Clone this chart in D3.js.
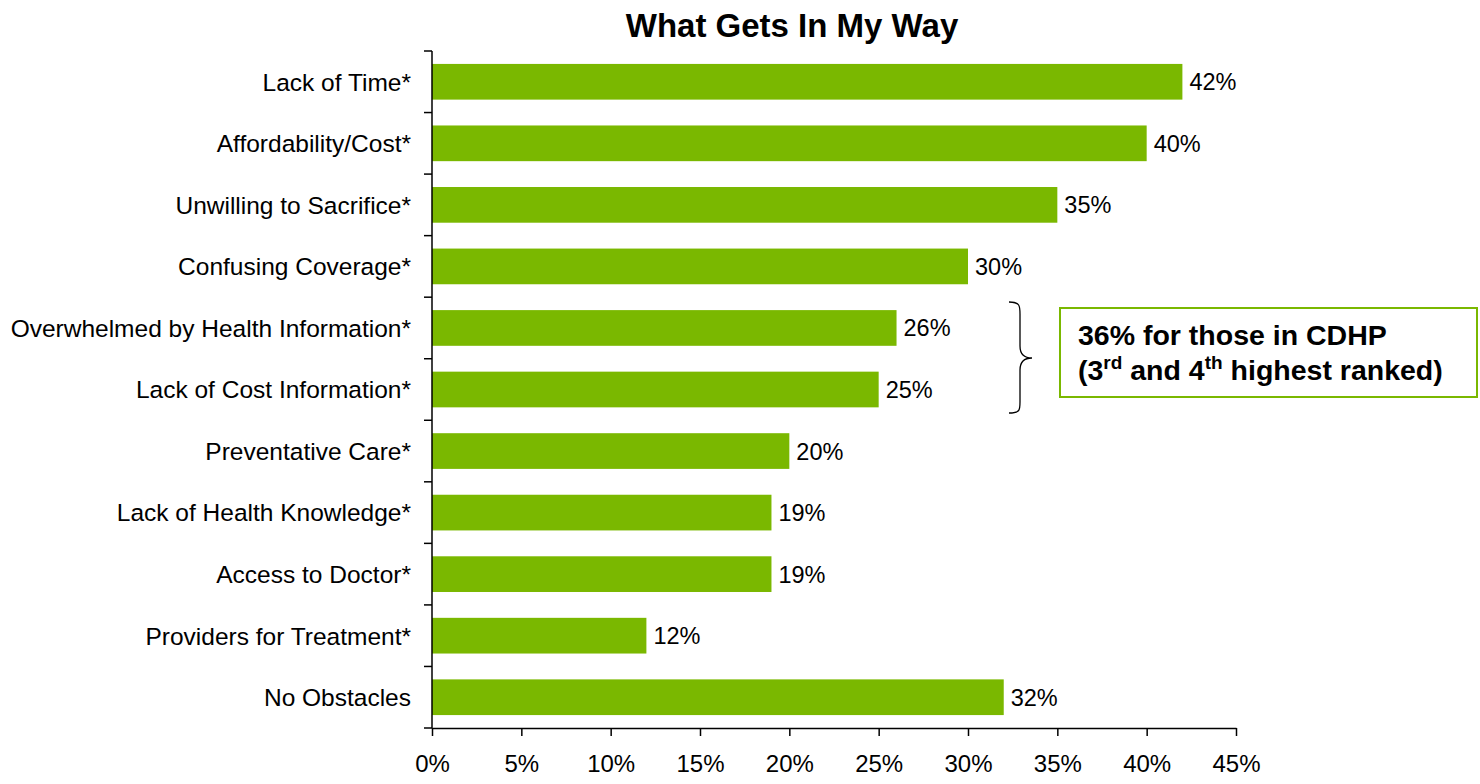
<!DOCTYPE html>
<html>
<head>
<meta charset="UTF-8">
<style>
  body { margin: 0; background: white; }
  svg text { font-family: "Liberation Sans", Arial, sans-serif; fill: #000; }
  .axis path, .axis line { stroke: #000; stroke-width: 1.5; }
</style>
</head>
<body>
<svg id="chart" width="1480" height="784"></svg>
<script src="https://d3js.org/d3.v7.min.js"></script>
<script>
// data
const categories = ["Lack of Time*", "Affordability/Cost*", "Unwilling to Sacrifice*", "Confusing Coverage*",
  "Overwhelmed by Health Information*", "Lack of Cost Information*", "Preventative Care*",
  "Lack of Health Knowledge*", "Access to Doctor*", "Providers for Treatment*", "No Obstacles"];
const values = [42, 40, 35, 30, 26, 25, 20, 19, 19, 12, 32];
const xTicks = [0, 5, 10, 15, 20, 25, 30, 35, 40, 45];

const svg = d3.select("#chart");
const mLeft = 432, mRight = 1236, mTop = 51, mBottom = 728;

const x = d3.scaleLinear().domain([0, 45]).range([mLeft, mRight]);
const y = d3.scaleBand().domain(categories).range([mTop, mBottom]).paddingInner(0.42).paddingOuter(0.21);

svg.append("text")
  .attr("x", 792).attr("y", 37)
  .attr("text-anchor", "middle")
  .style("font-size", "33px").style("font-weight", "bold")
  .text("What Gets In My Way");

// bars
svg.append("g").selectAll("rect")
  .data(values)
  .join("rect")
  .attr("x", x(0))
  .attr("y", (d, i) => y(categories[i]))
  .attr("width", d => x(d) - x(0))
  .attr("height", y.bandwidth())
  .attr("fill", "#7ab800");

svg.append("g").selectAll("text")
  .data(values)
  .join("text")
  .attr("x", d => x(d) + 7)
  .attr("y", (d, i) => y(categories[i]) + y.bandwidth() / 2)
  .attr("dy", "0.36em")
  .style("font-size", "23.5px")
  .text(d => d + "%");

// x axis
const xAxis = svg.append("g").attr("class", "axis")
  .attr("transform", `translate(0,${mBottom})`)
  .call(d3.axisBottom(x).tickValues(xTicks).tickFormat(d => d + "%").tickSize(8).tickSizeOuter(0).tickPadding(19));
xAxis.selectAll("text").style("font-size", "24px");

// y axis: ticks at band boundaries
const yAxis = svg.append("g").attr("class", "axis");
yAxis.append("line").attr("x1", mLeft).attr("x2", mLeft).attr("y1", mTop).attr("y2", mBottom);
const step = (mBottom - mTop) / categories.length;
yAxis.selectAll("line.tk")
  .data(d3.range(categories.length + 1))
  .join("line").attr("class", "tk")
  .attr("x1", mLeft - 8).attr("x2", mLeft)
  .attr("y1", i => mTop + i * step).attr("y2", i => mTop + i * step);
yAxis.selectAll("text")
  .data(categories)
  .join("text")
  .attr("x", mLeft - 21)
  .attr("y", d => y(d) + y.bandwidth() / 2)
  .attr("dy", "0.36em")
  .attr("text-anchor", "end")
  .style("font-size", "24.5px")
  .text(d => d);

// brace
svg.append("path")
  .attr("d", "M1009,302 C1020,302 1020,306 1020,314 L1020,346 C1020,354 1024,358 1032,358 C1024,358 1020,362 1020,370 L1020,402 C1020,410 1020,413 1009,413")
  .attr("fill", "none").attr("stroke", "#000").attr("stroke-width", 1.3);

// callout box
svg.append("rect")
  .attr("x", 1060).attr("y", 308).attr("width", 417).attr("height", 89)
  .attr("fill", "white").attr("stroke", "#7ab800").attr("stroke-width", 2);
const note = svg.append("g").style("font-size", "28.5px").style("font-weight", "bold");
note.append("text").attr("x", 1078).attr("y", 345).text("36% for those in CDHP");
const l2 = note.append("text").attr("x", 1078).attr("y", 380);
l2.append("tspan").text("(3");
l2.append("tspan").attr("dy", -11).style("font-size", "19px").text("rd");
l2.append("tspan").attr("dy", 11).text(" and 4");
l2.append("tspan").attr("dy", -11).style("font-size", "19px").text("th");
l2.append("tspan").attr("dy", 11).text(" highest ranked)");
</script>
</body>
</html>
